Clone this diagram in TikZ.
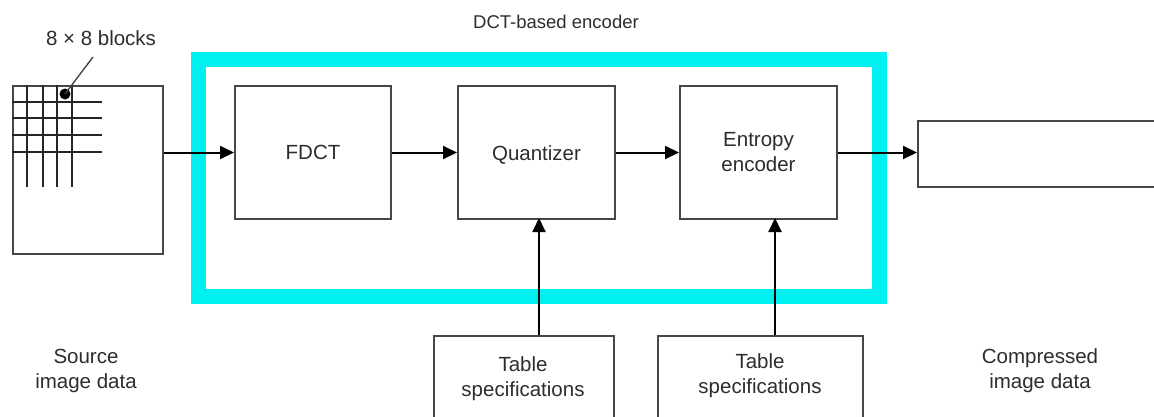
\documentclass[tikz,border=0pt]{standalone}
\usepackage{fontspec}
\setmainfont{Liberation Sans}
\usetikzlibrary{arrows.meta}
\definecolor{frameCyan}{RGB}{0,240,242}
\definecolor{lineGray}{RGB}{70,70,70}
\definecolor{textGray}{RGB}{45,45,45}
\begin{document}
\begin{tikzpicture}[x=1pt,y=-1pt,
  blk/.style={draw=lineGray,line width=2pt,fill=white},
  lbl/.style={text=textGray,font=\fontsize{20.5}{25}\selectfont,align=center,inner sep=0pt},
  flow/.style={draw=black,line width=2pt,-{Triangle[length=14pt,width=13pt]}},
  gridln/.style={draw=black!85,line width=1.8pt}]
\useasboundingbox (0,0) rectangle (1154,416);
\clip (0,0) rectangle (1154,416);
% encoder frame
\draw[frameCyan,line width=15pt] (198,59) rectangle (879,296);
\node[lbl,font=\fontsize{18.5}{22}\selectfont] (title) at (556,22) {DCT-based encoder};
% source image with 8x8 block grid
\node[blk,minimum width=150pt,minimum height=168pt,anchor=north west,inner sep=0pt] (src) at (12,85) {};
\foreach \x in {27,43,57,72} \draw[gridln] (\x,85) -- (\x,187);
\foreach \y in {102,118,135,152} \draw[gridln] (12,\y) -- (102,\y);
\fill (65,94) circle (5.5pt);
\coordinate (lead) at (93,57);
\draw[lineGray,line width=1.4pt] (65,94) -- (lead);
\node[lbl] (blocks) at (101,38) {8 × 8 blocks};
\node[lbl] (srclbl) at (86,371) {Source\\image data};
% processing stages
\node[blk,minimum width=156pt,minimum height=133pt,anchor=north west] (fdct) at (234,85) {};
\node[lbl] at (fdct.center) {FDCT};
\node[blk,minimum width=157pt,minimum height=133pt,anchor=north west] (quant) at (457,85) {};
\node[lbl] at ([yshift=-3pt]quant.center) {Quantizer};
\node[blk,minimum width=157pt,minimum height=133pt,anchor=north west] (entr) at (679,85) {};
\node[lbl] at (entr.center) {Entropy\\encoder};
% output
\node[blk,minimum width=240pt,minimum height=66pt,anchor=north west] (out) at (917,120) {};
\node[lbl] (outlbl) at (1040,371) {Compressed\\image data};
% table specification boxes
\node[blk,minimum width=180pt,minimum height=110pt,anchor=north west] (tab1) at (433,335) {};
\node[lbl] at (523,379) {Table\\specifications};
\node[blk,minimum width=205pt,minimum height=110pt,anchor=north west] (tab2) at (657,335) {};
\node[lbl] at (760,376) {Table\\specifications};
% data flow
\draw[flow] (src.east |- fdct.west) -- (fdct.west);
\draw[flow] (fdct.east) -- (quant.west);
\draw[flow] (quant.east) -- (entr.west);
\draw[flow] (entr.east) -- (entr.east -| out.west);
\draw[flow] (539,335) -- (539,218);
\draw[flow] (775,335) -- (775,218);
\end{tikzpicture}
\end{document}
